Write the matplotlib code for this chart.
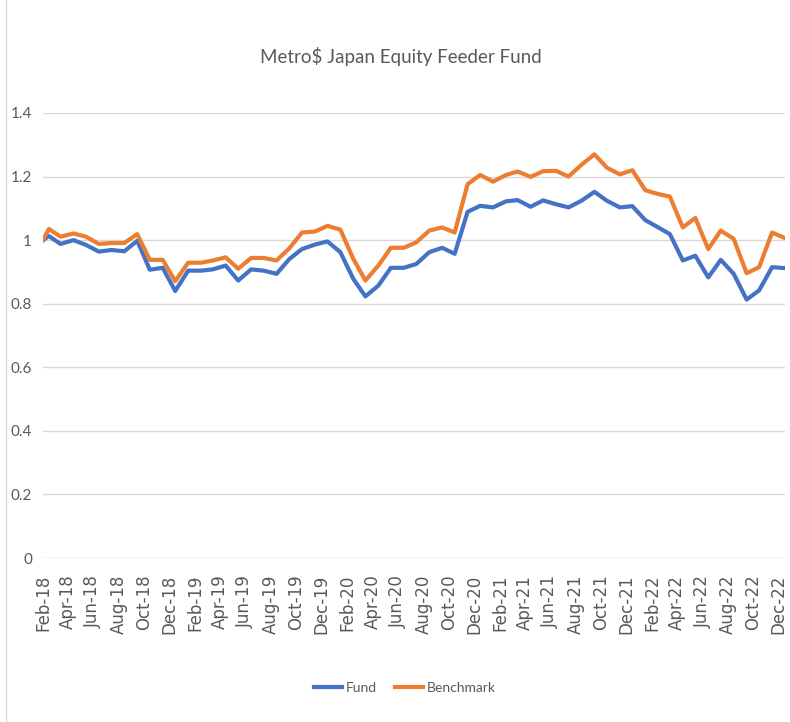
import numpy as np
import pandas as pd
import matplotlib
matplotlib.use('Agg')
import matplotlib.pyplot as plt

# series values (start value, then one per month Feb-18 .. Jan-23)
start_value = 1.0
fund = [1.013, 0.988, 1.000, 0.985, 0.964, 0.969, 0.965, 0.998, 0.907, 0.913,
        0.840, 0.904, 0.904, 0.908, 0.920, 0.873, 0.908, 0.904, 0.894, 0.941,
        0.972, 0.986, 0.996, 0.962, 0.878, 0.823, 0.857, 0.913, 0.913, 0.925,
        0.962, 0.976, 0.957, 1.089, 1.108, 1.103, 1.122, 1.126, 1.105, 1.125,
        1.113, 1.103, 1.124, 1.152, 1.124, 1.103, 1.107, 1.063, 1.040, 1.019,
        0.936, 0.951, 0.883, 0.938, 0.894, 0.813, 0.842, 0.915, 0.912]
benchmark = [1.035, 1.011, 1.021, 1.011, 0.988, 0.991, 0.991, 1.019, 0.938, 0.938,
             0.871, 0.929, 0.929, 0.936, 0.946, 0.910, 0.944, 0.944, 0.936, 0.975,
             1.024, 1.027, 1.045, 1.033, 0.941, 0.873, 0.920, 0.976, 0.976, 0.993,
             1.030, 1.040, 1.024, 1.176, 1.205, 1.184, 1.205, 1.216, 1.199, 1.217,
             1.218, 1.200, 1.237, 1.270, 1.228, 1.207, 1.220, 1.157, 1.145, 1.137,
             1.040, 1.070, 0.972, 1.030, 1.004, 0.896, 0.915, 1.024, 1.007]

start_date = pd.Timestamp('2018-02-01')
dates = pd.date_range('2018-02-01', periods=len(fund), freq='MS') + pd.Timedelta(days=14)
tick_dates = pd.date_range('2018-02-01', '2022-12-01', freq='2MS')
tick_labels = [d.strftime('%b-%y') for d in tick_dates]
y_ticks = [0, 0.2, 0.4, 0.6, 0.8, 1, 1.2, 1.4]
y_labels = ['0', '0.2', '0.4', '0.6', '0.8', '1', '1.2', '1.4']

x_all = [start_date] + list(dates)
fund_all = [start_value] + fund
bench_all = [start_value] + benchmark

plt.rcParams['font.family'] = ['DejaVu Sans']
narrow = 'Lato'
grey = '#595959'

fig = plt.figure(figsize=(7.9, 7.22), dpi=100)
ax = fig.add_axes([43 / 790, 1 - 558 / 722, 742 / 790, 445 / 722])

ax.plot(x_all, fund_all, color='#4472C4', lw=3, label='Fund', solid_joinstyle='round')
ax.plot(x_all, bench_all, color='#ED7D31', lw=3, label='Benchmark', solid_joinstyle='round')

ax.set_ylim(0, 1.4)
ax.set_xlim(start_date, dates[-1] + pd.Timedelta(days=1))
ax.set_yticks(y_ticks)
ax.set_yticklabels(y_labels, fontsize=11, color=grey, family=narrow)
ax.set_xticks(tick_dates)
ax.set_xticklabels(tick_labels, rotation=90, fontsize=12, color=grey)
ax.tick_params(axis='x', length=0, pad=12)
ax.tick_params(axis='y', length=0, pad=8)
ax.grid(axis='y', color='#D9D9D9', lw=1)
ax.set_axisbelow(True)
for s in ax.spines.values():
    s.set_visible(False)
ax.axhline(0, color='#D9D9D9', lw=1, zorder=0)

fig.text(401 / 790, 1 - 57 / 722, 'Metro$ Japan Equity Feeder Fund', ha='center', va='center',
         fontsize=13.5, color=grey, family=narrow)
fig.legend(loc='center', bbox_to_anchor=(405 / 790, 1 - 688 / 722), ncol=2, frameon=False,
           prop={'family': narrow, 'size': 10}, handlelength=2.0, columnspacing=1.3,
           handletextpad=0.3, labelcolor=grey)

fig.add_artist(plt.Line2D([6 / 790, 6 / 790], [0, 1], color='#D9D9D9', lw=1))

fig.savefig('out.png', dpi=100)
